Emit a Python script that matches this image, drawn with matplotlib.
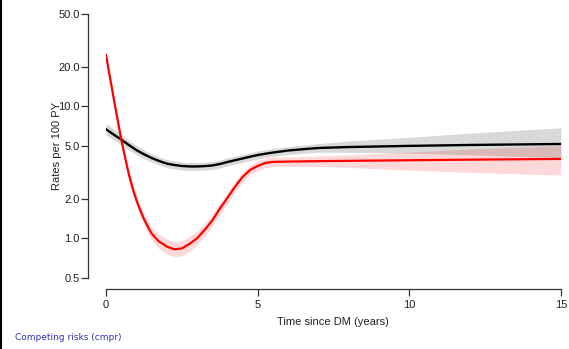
import matplotlib
matplotlib.use('Agg')
import matplotlib.pyplot as plt
from matplotlib.lines import Line2D

# Data (rates per 100 PY)
t_all = [0, 0.25, 0.5, 0.75, 1.0, 1.25, 1.5, 1.75, 2.0, 2.25, 2.5, 2.75, 3.0, 3.25, 3.5, 3.75,
         4.0, 4.25, 4.5, 4.75, 5.0, 5.25, 5.5, 6.0, 6.5, 7.0, 8.0, 10.0, 12.0, 15.0]
all_rate = [6.7, 6.11, 5.6, 5.09, 4.66, 4.33, 4.06, 3.85, 3.68, 3.59, 3.53, 3.50, 3.50, 3.52, 3.56, 3.65,
            3.78, 3.90, 4.02, 4.15, 4.27, 4.37, 4.46, 4.62, 4.73, 4.83, 4.91, 5.01, 5.09, 5.18]
all_lo = [6.04, 5.54, 5.11, 4.67, 4.30, 4.01, 3.77, 3.58, 3.43, 3.35, 3.29, 3.26, 3.26, 3.28, 3.32, 3.40,
          3.53, 3.64, 3.75, 3.87, 3.98, 4.08, 4.16, 4.31, 4.40, 4.48, 4.48, 4.41, 4.28, 4.08]
all_hi = [7.43, 6.73, 6.14, 5.54, 5.05, 4.67, 4.37, 4.13, 3.95, 3.85, 3.78, 3.75, 3.75, 3.77, 3.82, 3.91,
          4.05, 4.18, 4.31, 4.45, 4.58, 4.68, 4.78, 4.95, 5.08, 5.21, 5.45, 5.82, 6.26, 6.88]

t_cmp = [0, 0.125, 0.25, 0.375, 0.5, 0.625, 0.75, 0.875, 1.0, 1.125, 1.25, 1.375, 1.5, 1.625, 1.75,
         2.0, 2.25, 2.5, 2.75, 3.0, 3.25, 3.5, 3.75, 4.0, 4.25, 4.5, 4.75, 5.0, 5.25, 5.5, 5.75,
         6.0, 7.0, 8.0, 10.0, 12.0, 15.0]
cmp_rate = [24.5, 16.8, 11.6, 8.08, 5.65, 4.13, 3.07, 2.40, 1.95, 1.64, 1.40, 1.23, 1.09, 1.01, 0.945,
            0.866, 0.825, 0.837, 0.906, 1.0, 1.155, 1.36, 1.67, 2.02, 2.45, 2.91, 3.29, 3.53, 3.72, 3.79, 3.80,
            3.81, 3.84, 3.86, 3.90, 3.94, 3.99]
cmp_lo = [23.4, 16.0, 10.95, 7.57, 5.27, 3.84, 2.83, 2.20, 1.78, 1.49, 1.26, 1.10, 0.97, 0.896, 0.833,
          0.760, 0.724, 0.734, 0.795, 0.885, 1.03, 1.22, 1.51, 1.83, 2.24, 2.67, 3.03, 3.26, 3.43, 3.50, 3.51,
          3.51, 3.50, 3.44, 3.28, 3.16, 3.01]
cmp_hi = [25.6, 17.7, 12.3, 8.62, 6.06, 4.44, 3.33, 2.61, 2.14, 1.81, 1.55, 1.37, 1.22, 1.138, 1.073,
          0.987, 0.941, 0.954, 1.033, 1.13, 1.296, 1.52, 1.85, 2.23, 2.69, 3.17, 3.57, 3.83, 4.03, 4.11, 4.12,
          4.13, 4.21, 4.28, 4.50, 4.74, 5.04]

y_ticks = [0.5, 1.0, 2.0, 5.0, 10.0, 20.0, 50.0]
x_ticks = [0, 5, 10, 15]

W, H = 569, 349
fig = plt.figure(figsize=(W / 100, H / 100), dpi=100)
fig.patch.set_facecolor('white')

# axes box: x 0..15 -> px 106..561, y 0.5..50 -> px 278..14
ax = fig.add_axes([106 / W, 1 - 278 / H, 455 / W, 264 / H])
ax.set_yscale('log')
ax.set_xlim(0, 15)
ax.set_ylim(0.5, 50)

ax.fill_between(t_cmp, cmp_lo, cmp_hi, color='#ff0000', alpha=0.15, lw=0)
ax.fill_between(t_all, all_lo, all_hi, color='#000000', alpha=0.15, lw=0)
ax.plot(t_all, all_rate, color='black', lw=1.7, solid_joinstyle='round')
ax.plot(t_cmp, cmp_rate, color='#ff0000', lw=1.6, solid_joinstyle='round')

# R-style detached axes
for s in ['top', 'right']:
    ax.spines[s].set_visible(False)
ax.spines['left'].set_position(('axes', -18 / 455))
ax.spines['bottom'].set_position(('axes', -11 / 264))
ax.spines['left'].set_bounds(0.5, 50)
ax.spines['bottom'].set_bounds(0, 15)
for s in ['left', 'bottom']:
    ax.spines[s].set_color('#333333')
    ax.spines[s].set_linewidth(0.9)

ax.set_yticks(y_ticks)
ax.set_yticklabels([f'{v:.1f}' for v in y_ticks])
ax.yaxis.set_minor_locator(matplotlib.ticker.NullLocator())
ax.set_xticks(x_ticks)
ax.set_xticklabels([str(v) for v in x_ticks])
ax.tick_params(axis='both', direction='out', length=5, width=0.9, color='#333333',
               labelsize=8, labelcolor='#222222')
ax.tick_params(axis='y', pad=1)
ax.tick_params(axis='x', pad=3)
for lab in ax.get_xticklabels() + ax.get_yticklabels():
    lab.set_fontfamily('Liberation Sans')

fig.text(57 / W, 1 - 146 / H, 'Rates per 100 PY', rotation=90, ha='center', va='center',
         fontsize=8, color='#222222', family='Liberation Sans')
fig.text(333 / W, 1 - 322 / H, 'Time since DM (years)', ha='center', va='center',
         fontsize=8, color='#222222', family='Liberation Sans')

fig.text(15 / W, 1 - 337 / H, 'Competing risks (cmpr)', ha='left', va='center',
         fontsize=6.5, color='#3333b3', family='DejaVu Sans')

# left border of the slide
fig.add_artist(Line2D([1 / W, 1 / W], [0, 1], color='black', lw=1.5, transform=fig.transFigure))

fig.savefig('out.png', dpi=100, facecolor='white')
